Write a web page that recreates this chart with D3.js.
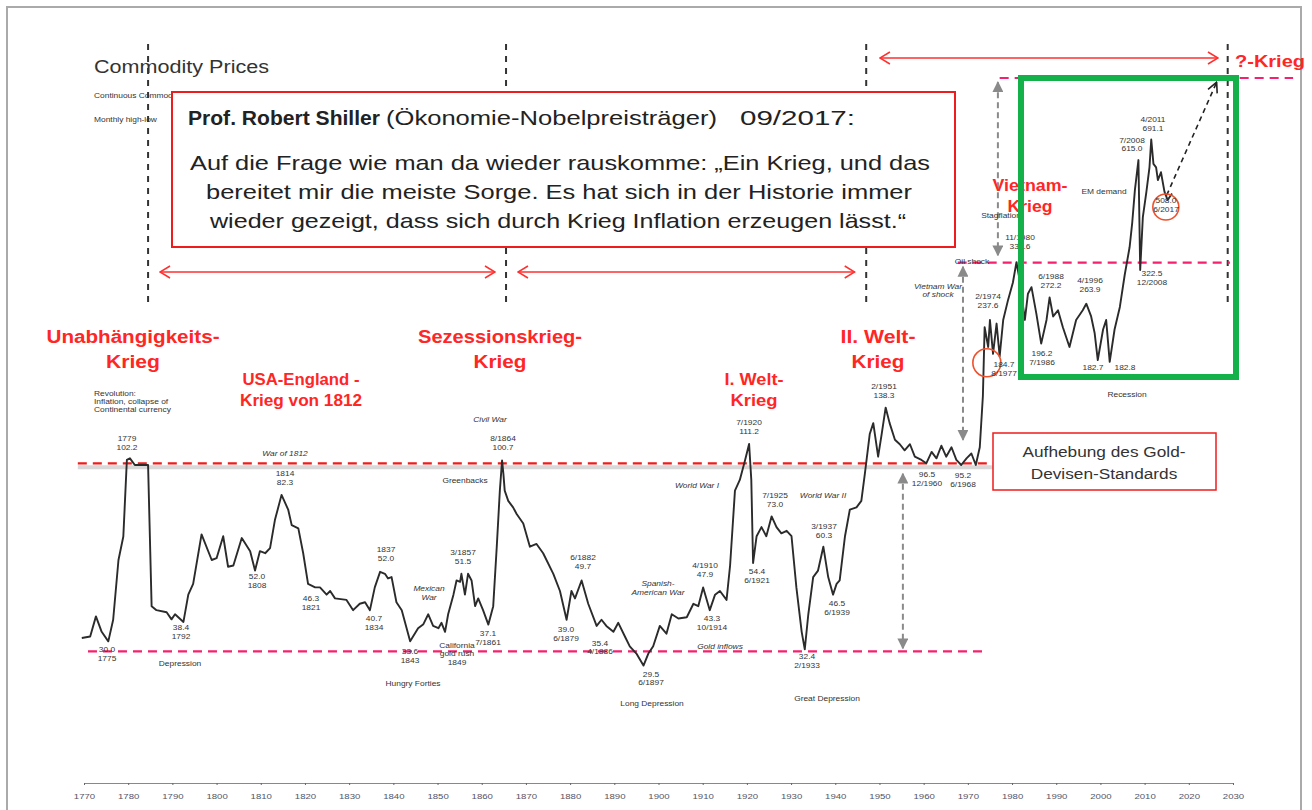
<!DOCTYPE html>
<html>
<head>
<meta charset="utf-8">
<script src="https://cdnjs.cloudflare.com/ajax/libs/d3/7.8.5/d3.min.js"></script>
<style>
  body { margin: 0; background: #fff; }
  svg { display: block; font-family: "Liberation Sans", Arial, sans-serif; }
  .tiny { font-size: 7px; fill: #333; }
  .war { font-weight: bold; fill: #ff2626; }
</style>
</head>
<body>
<div id="chart"></div>
<script>
// commodity price index (monthly high-low, log scale)
const priceYears = [
  1769.5, 1771.4, 1772.7, 1774, 1775.5, 1776.6, 1777.8, 1778.9, 1779.7, 1780.4, 1781.5, 1784.5,
  1785.3, 1786.4, 1788.7, 1789.8, 1790.6, 1792.5, 1793.6, 1794.7, 1796.6, 1798.9, 1800, 1801.5,
  1802.6, 1803.8, 1805.7, 1807.6, 1808.7, 1809.8, 1811, 1812.1, 1813.2, 1814.7, 1816.2, 1817,
  1818.5, 1819.6, 1820.7, 1822.3, 1823.4, 1824.9, 1825.7, 1826.8, 1829.4, 1830.9, 1832.4, 1833.6,
  1834.7, 1835.8, 1837, 1838.1, 1838.8, 1839.6, 1840.7, 1841.9, 1843.8, 1845.6, 1846.8, 1847.9,
  1849, 1850.2, 1850.9, 1851.7, 1852.4, 1853.6, 1854.3, 1855.1, 1855.4, 1856.2, 1856.9, 1857.7,
  1858.5, 1859.2, 1860.3, 1861.5, 1862.6, 1863.4, 1864.1, 1864.6, 1864.9, 1865.2, 1866, 1867.1,
  1867.9, 1869.4, 1870.9, 1872.4, 1873.9, 1876.2, 1877.7, 1879.2, 1880.3, 1881.1, 1882.6, 1884.1,
  1886, 1887.1, 1888.2, 1889.8, 1890.9, 1892.4, 1893.5, 1895, 1896.6, 1897.7, 1898.8, 1900.3,
  1901.8, 1903, 1904.5, 1906.4, 1907.9, 1909, 1910.1, 1911.6, 1912.8, 1913.9, 1915.4, 1916.2,
  1917.3, 1918.4, 1919.6, 1920.5, 1921, 1921.4, 1922.2, 1923.3, 1924.4, 1925.6, 1926.7, 1927.8,
  1929, 1930.1, 1931.2, 1932.4, 1933.1, 1933.9, 1935, 1936.1, 1937.3, 1938.4, 1939.5, 1940.3,
  1941, 1942.2, 1943.3, 1944.8, 1945.9, 1946.7, 1947.8, 1948.6, 1949.7, 1950.5, 1951.4, 1952.3,
  1953.5, 1954.6, 1955.7, 1956.9, 1958, 1959.5, 1960.6, 1961.8, 1962.9, 1964, 1965.1, 1966.3,
  1967.4, 1968.5, 1969.7, 1970.8, 1971.8, 1972.7, 1973.4, 1973.8, 1974.6, 1975, 1975.7, 1976.5,
  1977.2, 1978, 1979.1, 1980.2, 1981, 1981.7, 1982.9, 1983.6, 1984.4, 1985.5, 1986.6, 1987.8,
  1988.5, 1989.3, 1990.4, 1991.5, 1993, 1994.5, 1996, 1996.8, 1997.9, 1998.7, 1999.4, 2000.6,
  2001.3, 2002.1, 2003.2, 2004.4, 2005.5, 2006.6, 2007.2, 2007.8, 2008.6, 2009, 2009.6, 2010.4,
  2011.1, 2011.5, 2012, 2012.6, 2013, 2013.7, 2014.5, 2015.2, 2016.2
];
const priceValues = [
  34.7, 35, 39.5, 36, 34, 38.7, 55.4, 63.8, 101, 102, 98, 98,
  42, 41, 40.5, 38.8, 40, 38.2, 45, 48, 64.6, 55.4, 56, 63.9,
  53.2, 53.6, 63.2, 58.4, 52, 58.4, 57.7, 59.5, 70.4, 81.9, 75, 68.3,
  67, 57.7, 48, 47, 47, 45, 46, 44, 43.6, 41, 42.6, 43,
  41, 47, 51.6, 51, 49.6, 50, 43, 41, 34, 36.8, 37.7, 40,
  37.3, 36.8, 38, 36, 40, 45, 49, 48.6, 51, 45, 51, 49,
  42, 44, 41, 37.6, 42, 60, 84, 100.7, 93, 84, 79, 76,
  73, 69, 60, 61, 57.7, 51, 46, 38.7, 46, 44, 49, 42.6,
  37.3, 38.7, 37.3, 36, 38, 35, 33, 31.6, 29.4, 31.6, 33, 37.3,
  35.6, 40, 39, 39.3, 42.6, 42, 47, 41, 45, 46, 43.6, 53.6,
  84, 89.6, 101, 111.2, 89.6, 54.4, 63.9, 67.5, 63.9, 72, 67.5, 65,
  66, 63.9, 47, 36, 32.4, 40, 50, 52, 60, 50, 45, 48,
  49, 63.9, 75, 76, 79, 93, 118, 126, 103, 118, 138.3, 126,
  114, 111, 107, 111, 103, 101, 99, 106, 102, 110, 103, 109,
  101, 98, 102, 105, 98, 109, 148, 224, 199, 234, 191, 229,
  188, 234, 264, 293, 331, 298, 234, 274, 285, 243, 203, 234,
  268, 239, 248, 224, 199, 234, 248, 258, 239, 216, 184, 221,
  234, 182, 221, 253, 307, 362, 420, 510, 611, 316, 434, 505,
  585, 691.1, 597, 585, 542, 568, 505, 481, 500
];
const tickYears = d3.range(1770, 2031, 10);

// reference levels
const goldLevel = 99;     // red dashed
const lowLevel = 32;      // pink dashed bottom
const midLevel = 330;     // pink dashed 1980s
const topLevel = 1000;    // pink dashed top
const eraBreaks = [1784.5, 1865.5, 1947, 2028.8];

const width = 1312;
const height = 810;
const sx = 1.2; // the source picture is stretched sideways

const x = d3.scaleLinear().domain([1770, 2030]).range([84, 1233]);
const y = d3.scaleLog().domain([29.5, 1000]).range([665, 78]);

const svg = d3.select("#chart").append("svg")
  .attr("width", width)
  .attr("height", height);

function put(sel, px, py, k) {
  return sel.attr("transform", `translate(${px},${py}) scale(${k || sx},1)`);
}

// frame
svg.append("rect")
  .attr("x", 7).attr("y", 7)
  .attr("width", 1294).attr("height", 810)
  .attr("fill", "none").attr("stroke", "#aaa").attr("stroke-width", 2);

const defs = svg.append("defs");
defs.append("marker").attr("id", "redHead")
  .attr("viewBox", "0 0 12 14").attr("refX", 11).attr("refY", 7)
  .attr("markerWidth", 12).attr("markerHeight", 14).attr("markerUnits", "userSpaceOnUse")
  .attr("orient", "auto-start-reverse")
  .append("path").attr("d", "M1,1 L11,7 L1,13").attr("fill", "none")
  .attr("stroke", "#ff3030").attr("stroke-width", 1.5);
defs.append("marker").attr("id", "grayHead")
  .attr("viewBox", "0 0 10 10").attr("refX", 9).attr("refY", 5)
  .attr("markerWidth", 11).attr("markerHeight", 11).attr("markerUnits", "userSpaceOnUse")
  .attr("orient", "auto-start-reverse")
  .append("path").attr("d", "M0,0 L10,5 L0,10 Z").attr("fill", "#8a8a8a");
defs.append("marker").attr("id", "blackHead")
  .attr("viewBox", "0 0 12 12").attr("refX", 11).attr("refY", 6)
  .attr("markerWidth", 12).attr("markerHeight", 12).attr("markerUnits", "userSpaceOnUse")
  .attr("orient", "auto")
  .append("path").attr("d", "M1,1 L11,6 L1,11").attr("fill", "none")
  .attr("stroke", "#222").attr("stroke-width", 1.6);

// title
svg.append("text").attr("x", 94).attr("y", 73)
  .attr("font-size", 18).attr("fill", "#333")
  .attr("textLength", 175).attr("lengthAdjust", "spacingAndGlyphs")
  .text("Commodity Prices");
put(svg.append("text").attr("class", "tiny"), 94, 98).text("Continuous Commodity Index");
put(svg.append("text").attr("class", "tiny"), 94, 122).text("Monthly high-low");

// era separators
svg.selectAll(".era").data(eraBreaks).enter().append("line")
  .attr("x1", d => x(d)).attr("x2", d => x(d))
  .attr("y1", 44).attr("y2", 306)
  .attr("stroke", "#333").attr("stroke-width", 2).attr("stroke-dasharray", "6,6");

// red double arrows between era separators
const spans = [[1787.2, 1863, 272], [1868.2, 1944.4, 272], [1950.1, 2026.6, 58]];
svg.selectAll(".span").data(spans).enter().append("line")
  .attr("x1", d => x(d[0])).attr("x2", d => x(d[1]))
  .attr("y1", d => d[2]).attr("y2", d => d[2])
  .attr("stroke", "#ff3030").attr("stroke-width", 1.5)
  .attr("marker-start", "url(#redHead)").attr("marker-end", "url(#redHead)");

// reference levels
svg.append("line")
  .attr("x1", x(1768.6)).attr("x2", x(1977.2))
  .attr("y1", y(goldLevel) + 4).attr("y2", y(goldLevel) + 4)
  .attr("stroke", "#d8d8d8").attr("stroke-width", 4);
svg.append("line")
  .attr("x1", x(1768.6)).attr("x2", x(1977.2))
  .attr("y1", y(goldLevel)).attr("y2", y(goldLevel))
  .attr("stroke", "#ee1c1c").attr("stroke-width", 2.2).attr("stroke-dasharray", "9,6");
svg.append("line")
  .attr("x1", x(1770.9)).attr("x2", x(1973.9))
  .attr("y1", y(lowLevel)).attr("y2", y(lowLevel))
  .attr("stroke", "#f5206e").attr("stroke-width", 2.2).attr("stroke-dasharray", "9,6");
svg.append("line")
  .attr("x1", x(1967.7)).attr("x2", x(2029.3))
  .attr("y1", y(midLevel)).attr("y2", y(midLevel))
  .attr("stroke", "#f5206e").attr("stroke-width", 2.2).attr("stroke-dasharray", "9,6");
svg.append("line")
  .attr("x1", x(1977.2)).attr("x2", x(2043.6))
  .attr("y1", y(topLevel)).attr("y2", y(topLevel))
  .attr("stroke", "#f5206e").attr("stroke-width", 2.2).attr("stroke-dasharray", "9,6");

// gray dashed arrows
const grayArrows = [[1976.8, 975, 345], [1968.9, 322, 114], [1955.3, 93, 32.6]];
svg.selectAll(".garrow").data(grayArrows).enter().append("line")
  .attr("x1", d => x(d[0])).attr("x2", d => x(d[0]))
  .attr("y1", d => y(d[1])).attr("y2", d => y(d[2]))
  .attr("stroke", "#8a8a8a").attr("stroke-width", 2).attr("stroke-dasharray", "6,4")
  .attr("marker-start", "url(#grayHead)").attr("marker-end", "url(#grayHead)");

// price line
const series = priceYears.map((d, i) => ({ year: d, value: priceValues[i] }));
const line = d3.line().x(d => x(d.year)).y(d => y(d.value));
svg.append("path").datum(series)
  .attr("d", line)
  .attr("fill", "none").attr("stroke", "#2b2b2b").attr("stroke-width", 1.9)
  .attr("stroke-linejoin", "round");

// projection arrow
svg.append("line")
  .attr("x1", x(2015)).attr("y1", y(495))
  .attr("x2", x(2026.3)).attr("y2", y(975))
  .attr("stroke", "#222").attr("stroke-width", 1.6).attr("stroke-dasharray", "5,4")
  .attr("marker-end", "url(#blackHead)");

// orange circles
svg.selectAll(".ring").data([[1974.3, 181, 14], [2014.8, 461, 13]]).enter().append("circle")
  .attr("cx", d => x(d[0])).attr("cy", d => y(d[1])).attr("r", d => d[2])
  .attr("fill", "none").attr("stroke", "#f0502a").attr("stroke-width", 1.6);

// axis
const axis = svg.append("g")
  .attr("transform", "translate(0,783)")
  .call(d3.axisBottom(x).tickValues(tickYears).tickFormat(d3.format("d")).tickSize(2).tickPadding(8));
axis.select(".domain").attr("stroke", "#888");
axis.selectAll(".tick line").attr("stroke", "#666");
axis.selectAll(".tick text")
  .attr("font-size", 8).attr("fill", "#556").attr("font-family", "Liberation Sans, Arial")
  .attr("transform", `scale(${sx},1)`).attr("x", 0);

// small annotations [x, y, text, italic]
const notes = [
  [127, 441, "1779"], [127, 450, "102.2"], [285, 456, "War of 1812", 1],
  [285, 476, "1814"], [285, 485, "82.3"], [257, 579, "52.0"], [257, 588, "1808"],
  [311, 601, "46.3"], [311, 610, "1821"], [181, 630, "38.4"], [181, 639, "1792"],
  [107, 652, "30.0"], [107, 661, "1775"], [180, 666, "Depression"],
  [386, 552, "1837"], [386, 561, "52.0"], [374, 621, "40.7"], [374, 630, "1834"],
  [429, 591, "Mexican", 1], [429, 600, "War", 1], [410, 654, "33.6"], [410, 663, "1843"],
  [457, 648, "California"], [457, 656, "gold rush"], [457, 665, "1849"],
  [413, 686, "Hungry Forties"], [463, 555, "3/1857"], [463, 564, "51.5"],
  [488, 636, "37.1"], [488, 645, "7/1861"], [490, 422, "Civil War", 1],
  [503, 441, "8/1864"], [503, 450, "100.7"], [465, 483, "Greenbacks"],
  [583, 560, "6/1882"], [583, 569, "49.7"], [566, 632, "39.0"], [566, 641, "6/1879"],
  [600, 646, "35.4"], [600, 654, "4/1886"], [658, 586, "Spanish-", 1], [658, 595, "American War", 1],
  [720, 649, "Gold inflows", 1], [651, 677, "29.5"], [651, 685, "6/1897"],
  [652, 706, "Long Depression"], [705, 568, "4/1910"], [705, 577, "47.9"],
  [712, 621, "43.3"], [712, 630, "10/1914"], [697, 488, "World War I", 1],
  [749, 425, "7/1920"], [749, 434, "111.2"], [757, 574, "54.4"], [757, 583, "6/1921"],
  [775, 498, "7/1925"], [775, 507, "73.0"], [823, 498, "World War II", 1],
  [824, 529, "3/1937"], [824, 538, "60.3"], [837, 606, "46.5"], [837, 615, "6/1939"],
  [807, 659, "32.4"], [807, 668, "2/1933"], [827, 701, "Great Depression"],
  [884, 389, "2/1951"], [884, 398, "138.3"], [927, 477, "96.5"], [927, 486, "12/1960"],
  [963, 478, "95.2"], [963, 487, "6/1968"], [938, 289, "Vietnam War", 1], [938, 297, "of shock", 1],
  [972, 264, "Oil shock"], [1001, 218, "Stagflation"], [1020, 240, "11/1980"], [1020, 249, "337.6"],
  [988, 299, "2/1974"], [988, 308, "237.6"], [1004, 367, "184.7"], [1004, 376, "8/1977"],
  [1051, 279, "6/1988"], [1051, 288, "272.2"], [1042, 356, "196.2"], [1042, 365, "7/1986"],
  [1090, 283, "4/1996"], [1090, 292, "263.9"], [1093, 370, "182.7"], [1093, 379, "12/1998"],
  [1125, 370, "182.8"], [1125, 379, "11/2001"], [1152, 276, "322.5"], [1152, 285, "12/2008"],
  [1127, 397, "Recession"], [1104, 194, "EM demand"], [1132, 143, "7/2008"], [1132, 151, "615.0"],
  [1153, 122, "4/2011"], [1153, 131, "691.1"], [1166, 203, "508.0"], [1166, 212, "6/2017"]
];
svg.selectAll(".note").data(notes).enter().append("text")
  .attr("class", "tiny")
  .attr("transform", d => `translate(${d[0]},${d[1]}) scale(${sx},1)`)
  .attr("text-anchor", "middle")
  .attr("font-style", d => d[3] ? "italic" : "normal")
  .text(d => d[2]);

const leftNotes = [[94, 396, "Revolution:"], [94, 404, "Inflation, collapse of"], [94, 412, "Continental currency"]];
svg.selectAll(".lnote").data(leftNotes).enter().append("text")
  .attr("class", "tiny")
  .attr("transform", d => `translate(${d[0]},${d[1]}) scale(${sx},1)`)
  .text(d => d[2]);

// war labels [x, y, text, size, width]
const wars = [
  [133, 343, "Unabhängigkeits-", 18, 173], [133, 368, "Krieg", 18, 54],
  [301, 385, "USA-England -", 16, 117], [301, 406, "Krieg von 1812", 16, 122],
  [500, 343, "Sezessionskrieg-", 18, 164], [500, 368, "Krieg", 18, 53],
  [754, 385, "I. Welt-", 16, 59], [754, 406, "Krieg", 16, 47],
  [878, 343, "II. Welt-", 18, 75], [878, 368, "Krieg", 18, 53],
  [1030, 191, "Vietnam-", 16, 75], [1030, 212, "Krieg", 16, 45],
  [1270, 67, "?-Krieg", 17, 70]
];
svg.selectAll(".war").data(wars).enter().append("text")
  .attr("class", "war")
  .attr("x", d => d[0] - d[4] / 2).attr("y", d => d[1])
  .attr("font-size", d => d[3])
  .attr("textLength", d => d[4]).attr("lengthAdjust", "spacingAndGlyphs")
  .text(d => d[2]);

// green box
svg.append("rect")
  .attr("x", 1021).attr("y", 78).attr("width", 215).attr("height", 299)
  .attr("fill", "none").attr("stroke", "#14b04a").attr("stroke-width", 6);

// gold standard box
svg.append("rect")
  .attr("x", 993).attr("y", 433).attr("width", 223).attr("height", 57)
  .attr("fill", "#fff").attr("stroke", "#ee1c1c").attr("stroke-width", 1.5);
put(svg.append("text"), 1104, 457, 1.15).attr("text-anchor", "middle")
  .attr("font-size", 15).attr("fill", "#333").text("Aufhebung des Gold-");
put(svg.append("text"), 1104, 479, 1.15).attr("text-anchor", "middle")
  .attr("font-size", 15).attr("fill", "#333").text("Devisen-Standards");

// quote box
svg.append("rect")
  .attr("x", 172).attr("y", 92).attr("width", 783).attr("height", 155)
  .attr("fill", "#fff").attr("stroke", "#ee1c1c").attr("stroke-width", 2);
const head = [
  [188, "Prof. Robert Shiller", "bold", 192],
  [386, "(Ökonomie-Nobelpreisträger)", "normal", 331],
  [740, "09/2017:", "normal", 115]
];
svg.selectAll(".head").data(head).enter().append("text")
  .attr("x", d => d[0]).attr("y", 125)
  .attr("font-size", 21).attr("font-weight", d => d[2]).attr("fill", "#222")
  .attr("textLength", d => d[3]).attr("lengthAdjust", "spacingAndGlyphs")
  .text(d => d[1]);
const quote = [
  "Auf die Frage wie man da wieder rauskomme: „Ein Krieg, und das",
  "bereitet mir die meiste Sorge. Es hat sich in der Historie immer",
  "wieder gezeigt, dass sich durch Krieg Inflation erzeugen lässt.“"
];
const quoteSpan = [[190, 740], [206, 706], [210, 696]];
svg.selectAll(".quote").data(quote).enter().append("text")
  .attr("x", (d, i) => quoteSpan[i][0]).attr("y", (d, i) => 170 + i * 29)
  .attr("font-size", 21).attr("fill", "#222")
  .attr("textLength", (d, i) => quoteSpan[i][1]).attr("lengthAdjust", "spacingAndGlyphs")
  .text(d => d);
</script>
</body>
</html>
